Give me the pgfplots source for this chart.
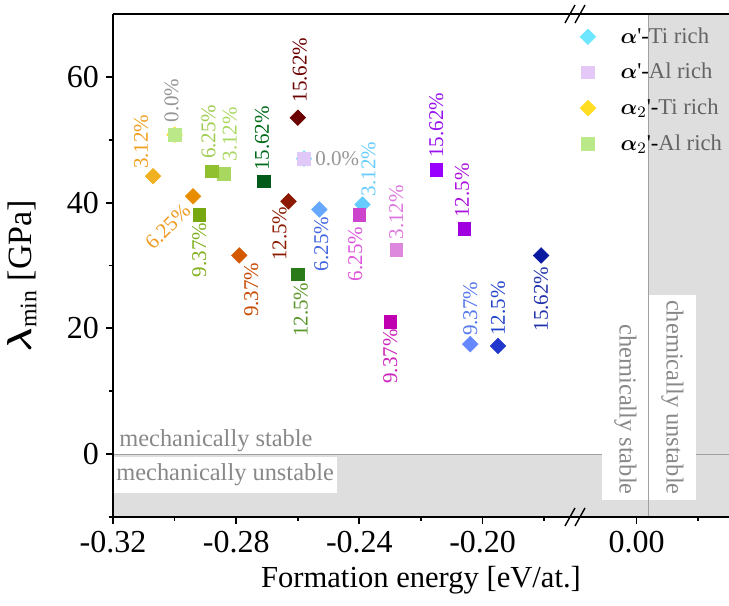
\documentclass[border=0pt]{standalone}
\usepackage{pgfplots}
\pgfplotsset{compat=1.18}
\usepackage{fontspec}
\setmainfont{Liberation Serif}
\usepackage{bm}
\newcommand{\lf}{\fontsize{10.5}{12}\selectfont}
\definecolor{bandgray}{HTML}{DEDEDE}
\definecolor{lineg}{HTML}{A0A0A0}
\definecolor{txtg}{HTML}{888888}
\definecolor{legt}{HTML}{646464}
\definecolor{zg}{HTML}{969696}
% legend colours
\definecolor{LTi}{HTML}{6EE6FF}
\definecolor{LAl}{HTML}{E3C8F8}
\definecolor{LTiT}{HTML}{FFDD22}
\definecolor{LAlT}{HTML}{BBE888}
% alpha2' Ti rich
\definecolor{a}{HTML}{F0B020}\definecolor{at}{HTML}{F0A020}
\definecolor{b}{HTML}{E88C00}\definecolor{bt}{HTML}{F09A20}
\definecolor{c}{HTML}{D45A00}\definecolor{ct}{HTML}{C84A00}
\definecolor{d}{HTML}{8B1A00}\definecolor{dt}{HTML}{8B1A00}
\definecolor{e}{HTML}{6B0000}\definecolor{et}{HTML}{6B0000}
% alpha2' Al rich
\definecolor{g0}{HTML}{BBE888}
\definecolor{g1}{HTML}{A8D860}\definecolor{g1t}{HTML}{A8D860}
\definecolor{g2}{HTML}{90C030}\definecolor{g2t}{HTML}{A0CC50}
\definecolor{g3}{HTML}{78A810}\definecolor{g3t}{HTML}{80B020}
\definecolor{g4}{HTML}{2A7A1A}\definecolor{g4t}{HTML}{5A9628}
\definecolor{g5}{HTML}{005A1A}\definecolor{g5t}{HTML}{006A1A}
% alpha' Ti rich
\definecolor{b0}{HTML}{66E0FF}
\definecolor{b1}{HTML}{66CCFF}\definecolor{b1t}{HTML}{66CCFF}
\definecolor{b2}{HTML}{66A8FF}\definecolor{b2t}{HTML}{4466E0}
\definecolor{b3}{HTML}{6688FF}\definecolor{b3t}{HTML}{5577EE}
\definecolor{b4}{HTML}{2238CC}\definecolor{b4t}{HTML}{2244CC}
\definecolor{b5}{HTML}{0A1AA0}\definecolor{b5t}{HTML}{2233AA}
% alpha' Al rich
\definecolor{p0}{HTML}{E0C8F8}
\definecolor{p1}{HTML}{DD88DD}\definecolor{p1t}{HTML}{DD77DD}
\definecolor{p2}{HTML}{CC44CC}\definecolor{p2t}{HTML}{DD55DD}
\definecolor{p3}{HTML}{C000B0}\definecolor{p3t}{HTML}{CC22BB}
\definecolor{p4}{HTML}{A000E0}\definecolor{p4t}{HTML}{AA11DD}
\definecolor{p5}{HTML}{9900FF}\definecolor{p5t}{HTML}{9911EE}
\pgfplotsset{
 dia/.style={only marks, color=#1, mark=square*, mark size=2.75pt, mark options={rotate=45, draw=#1, fill=#1, line width=0.3pt}},
 sq/.style={only marks, color=#1, mark=square*, mark size=3.15pt, mark options={draw=#1, fill=#1, line width=0.3pt}},
 U/.style n args={3}{nodes near coords style={font=\lf, text=#3, inner sep=0pt, xshift=#1pt, yshift=#2pt, rotate=90, anchor=west}},
 D/.style n args={3}{nodes near coords style={font=\lf, text=#3, inner sep=0pt, xshift=#1pt, yshift=#2pt, rotate=90, anchor=east}},
}
\begin{document}
\begin{tikzpicture}
\begin{axis}[
 scale only axis, width=308pt, height=251.5pt,
 xmin=-0.32, xmax=-0.12, ymin=-10, ymax=70,
 axis x line*=box, axis y line*=left,
 axis on top, clip=false,
 tick pos=left, tick align=outside,
 major tick length=3.5pt, minor tick length=2pt,
 xtick={-0.32,-0.28,-0.24,-0.20,-0.15},
 xticklabels={-0.32,-0.28,-0.24,-0.20,0.00},
 minor xtick={-0.30,-0.26,-0.22,-0.18,-0.13},
 ytick={0,20,40,60}, minor ytick={-10,10,30,50},
 ticklabel style={font=\fontsize{16}{18}\selectfont},
 /pgf/number format/assume math mode=true,
 axis line style={line width=0.9pt},
 every tick/.style={black, line width=0.9pt},
 xlabel={Formation energy [eV/at.]},
 ylabel={$\bm{\lambda}_{\mathrm{min}}$ [GPa]},
 xlabel style={font=\fontsize{15.3}{18}\selectfont, at={(axis description cs:0.5,-0.125)}, anchor=center},
 ylabel style={font=\fontsize{17}{19}\selectfont, at={(axis description cs:-0.148,0.48)}, anchor=center},
 legend style={draw=none, fill=none, at={(axis description cs:0.748,0.99)}, anchor=north west, font=\fontsize{11.3}{13}\selectfont, row sep=4.5pt, column sep=10.5pt},
 legend cell align=left,
]
% legend images
\addlegendimage{dia=LTi}
\addlegendimage{sq=LAl}
\addlegendimage{dia=LTiT}
\addlegendimage{sq=LAlT}
\legend{$\bm{\alpha}${\textquotesingle}-\textcolor{legt}{Ti rich},
        $\bm{\alpha}${\textquotesingle}-\textcolor{legt}{Al rich},
        $\bm{\alpha}_{2}${\textquotesingle}-\textcolor{legt}{Ti rich},
        $\bm{\alpha}_{2}${\textquotesingle}-\textcolor{legt}{Al rich}}
% backgrounds
\fill[bandgray] (axis cs:-0.32,-10) rectangle (axis cs:-0.146,0);
\fill[bandgray] (axis cs:-0.146,-10) rectangle (axis cs:-0.12,70);
\draw[lineg, line width=0.5pt] (axis cs:-0.32,0) -- (axis cs:-0.12,0);
\node[anchor=base west, inner sep=0pt, xshift=3pt, yshift=4pt, text=txtg, font=\fontsize{12.2}{14}\selectfont] at (axis cs:-0.32,0) {mechanically stable};
\node[anchor=north west, fill=white, inner xsep=1.5pt, inner ysep=3.5pt, yshift=-1pt, text=txtg, font=\fontsize{12.2}{14}\selectfont] at (axis cs:-0.32,0) {mechanically unstable};
\node[rotate=-90, anchor=north east, fill=white, inner xsep=2.5pt, inner ysep=6pt, text=txtg, font=\fontsize{12.2}{14}\selectfont] at (axis cs:-0.146,-7.3) {chemically stable};
\node[rotate=-90, anchor=south east, fill=white, inner xsep=2.5pt, inner ysep=6pt, text=txtg, font=\fontsize{12.2}{14}\selectfont] at (axis cs:-0.146,-7.3) {chemically unstable};
\draw[lineg, line width=0.5pt] (axis cs:-0.146,-10) -- (axis cs:-0.146,70);
% axis break marks
\draw[line width=0.7pt] ([xshift=-5pt,yshift=-4.5pt]axis cs:-0.17,70) -- ([xshift=0pt,yshift=4.5pt]axis cs:-0.17,70);
\draw[line width=0.7pt] ([xshift=0pt,yshift=-4.5pt]axis cs:-0.17,70) -- ([xshift=5pt,yshift=4.5pt]axis cs:-0.17,70);
\draw[line width=0.7pt] ([xshift=-5pt,yshift=-4.5pt]axis cs:-0.17,-10) -- ([xshift=0pt,yshift=4.5pt]axis cs:-0.17,-10);
\draw[line width=0.7pt] ([xshift=0pt,yshift=-4.5pt]axis cs:-0.17,-10) -- ([xshift=5pt,yshift=4.5pt]axis cs:-0.17,-10);

% ---- alpha2' Ti rich (diamonds) ----
\addplot[dia=LTiT] coordinates {(-0.300,50.8)};
\addplot[dia=a, nodes near coords={3.12\%}, U={-6}{3.5}{at}] coordinates {(-0.307,44.2)};
\addplot[dia=b, nodes near coords={6.25\%}, nodes near coords style={font=\lf, text=bt, inner sep=0pt, xshift=-3pt, yshift=-5.5pt, rotate=45, anchor=east}] coordinates {(-0.294,41.0)};
\addplot[dia=c, nodes near coords={9.37\%}, D={6}{-3.5}{ct}] coordinates {(-0.279,31.6)};
\addplot[dia=d, nodes near coords={12.5\%}, D={-4.5}{-2.5}{dt}] coordinates {(-0.263,40.2)};
\addplot[dia=e, nodes near coords={15.62\%}, U={1}{7.5}{et}] coordinates {(-0.260,53.5)};

% ---- alpha2' Al rich (squares) ----
\addplot[sq=g0, nodes near coords={0.0\%}, U={-1.5}{6}{zg}] coordinates {(-0.300,50.8)};
\addplot[sq=g1, nodes near coords={3.12\%}, U={3}{6}{g1t}] coordinates {(-0.284,44.6)};
\addplot[sq=g2, nodes near coords={6.25\%}, U={-1.5}{6}{g2t}] coordinates {(-0.288,45.0)};
\addplot[sq=g3, nodes near coords={9.37\%}, D={0}{-4}{g3t}] coordinates {(-0.292,38.1)};
\addplot[sq=g4, nodes near coords={12.5\%}, D={1.5}{-4}{g4t}] coordinates {(-0.260,28.6)};
\addplot[sq=g5, nodes near coords={15.62\%}, U={-1}{5}{g5t}] coordinates {(-0.271,43.4)};

% ---- alpha' Ti rich (diamonds) ----
\addplot[dia=b0] coordinates {(-0.258,47.0)};
\addplot[dia=b1, nodes near coords={3.12\%}, U={3}{4}{b1t}] coordinates {(-0.239,39.7)};
\addplot[dia=b2, nodes near coords={6.25\%}, D={1}{-3.5}{b2t}] coordinates {(-0.253,38.9)};
\addplot[dia=b3, nodes near coords={9.37\%}, U={0}{4}{b3t}] coordinates {(-0.204,17.5)};
\addplot[dia=b4, nodes near coords={12.5\%}, U={0}{5}{b4t}] coordinates {(-0.195,17.2)};
\addplot[dia=b5, nodes near coords={15.62\%}, D={0}{-5.5}{b5t}] coordinates {(-0.181,31.6)};

% ---- alpha' Al rich (squares) ----
\addplot[sq=p0, nodes near coords={0.0\%}, nodes near coords style={font=\lf, text=zg, inner sep=0pt, xshift=5.5pt, anchor=west}] coordinates {(-0.258,47.0)};
\addplot[sq=p1, nodes near coords={3.12\%}, U={0}{5}{p1t}] coordinates {(-0.228,32.5)};
\addplot[sq=p2, nodes near coords={6.25\%}, D={-2}{-6}{p2t}] coordinates {(-0.240,38.1)};
\addplot[sq=p3, nodes near coords={9.37\%}, D={0}{-3.5}{p3t}] coordinates {(-0.230,21.0)};
\addplot[sq=p4, nodes near coords={12.5\%}, U={-1}{5.5}{p4t}] coordinates {(-0.206,35.8)};
\addplot[sq=p5, nodes near coords={15.62\%}, U={0}{6}{p5t}] coordinates {(-0.215,45.2)};
\end{axis}
\pgfresetboundingbox
\path ([xshift=-56.5pt,yshift=-44.5pt]current axis.south west) rectangle ([yshift=7pt]current axis.north east);
\end{tikzpicture}
\end{document}
